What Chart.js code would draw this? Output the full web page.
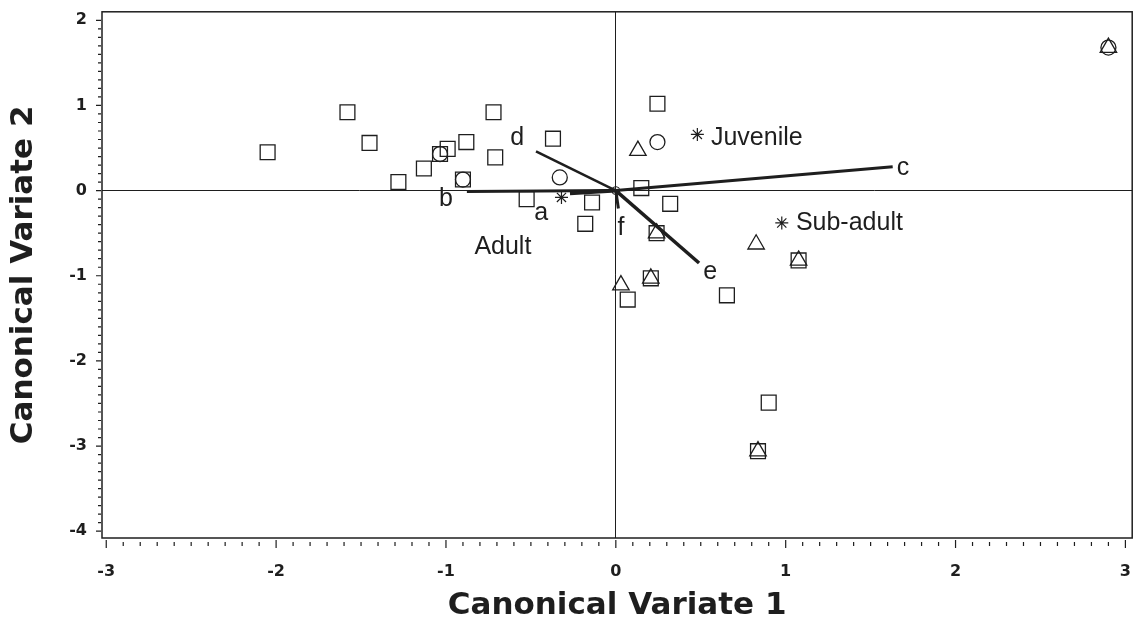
<!DOCTYPE html>
<html>
<head>
<meta charset="utf-8">
<script src="https://cdn.jsdelivr.net/npm/chart.js@4/dist/chart.umd.min.js"></script>
<style>
  html, body { margin: 0; padding: 0; background: #fff; }
  #wrap { width: 1144px; height: 642px; }
</style>
</head>
<body>
<div id="wrap"><canvas id="cvaChart" width="1144" height="642"></canvas></div>
<script>
// canonical scores
const squarePts = [
  [-2.05, 0.45], [-1.58, 0.92], [-1.45, 0.56], [-1.28, 0.10], [-1.13, 0.26],
  [-1.035, 0.43], [-0.99, 0.49], [-0.88, 0.57], [-0.90, 0.13], [-0.72, 0.92],
  [-0.71, 0.39], [-0.525, -0.10], [-0.37, 0.61], [-0.14, -0.14], [-0.18, -0.39],
  [0.245, 1.02], [0.15, 0.03], [0.32, -0.155], [0.24, -0.50], [0.206, -1.03],
  [0.07, -1.28], [0.654, -1.23], [1.076, -0.82], [0.90, -2.49], [0.837, -3.06]
];
const circlePts = [[-0.33, 0.155], [0.245, 0.57], [-1.035, 0.43], [-0.90, 0.13], [2.90, 1.68]];
const trianglePts = [
  [0.13, 0.47], [0.826, -0.63], [0.03, -1.11], [0.24, -0.50], [0.206, -1.03],
  [1.076, -0.82], [0.837, -3.06], [2.90, 1.68]
];

// group centroids
const groupNames = ['Adult', 'Juvenile', 'Sub-adult'];
const groupCentroids = [[-0.32, -0.08], [0.48, 0.66], [0.977, -0.38]];
const groupLabelAt = [[-0.665, -0.665], [0.56, 0.62], [1.06, -0.385]];

// variable vectors (from origin)
const vectorNames = ['a', 'b', 'c', 'd', 'e', 'f'];
const vectorEnds = [[-0.27, -0.03], [-0.877, -0.01], [1.63, 0.28], [-0.47, 0.46], [0.49, -0.85], [0.015, -0.21]];
const vectorLabelAt = [[-0.44, -0.26], [-1.0, -0.10], [1.69, 0.27], [-0.58, 0.62], [0.555, -0.96], [0.03, -0.44]];
const vectorWidths = [4, 3, 3, 2.5, 3.5, 3];

// axis ticks
const xTicks = [-3, -2, -1, 0, 1, 2, 3];
const yTicks = [-4, -3, -2, -1, 0, 1, 2];

const ink = '#1e1e1e';
const toXY = p => ({ x: p[0], y: p[1] });

const datasets = [];
vectorEnds.forEach((end, i) => {
  datasets.push({
    type: 'line',
    label: vectorNames[i],
    data: [{ x: 0, y: 0 }, toXY(end)],
    borderColor: ink,
    borderWidth: vectorWidths[i],
    pointRadius: 0,
    showLine: true,
    borderCapStyle: 'butt'
  });
});
datasets.push({
  label: 'origin', data: [{ x: 0, y: 0 }], pointStyle: 'circle', pointRadius: 4,
  borderColor: ink, backgroundColor: 'transparent', borderWidth: 1
});
datasets.push({
  label: 'squares', data: squarePts.map(toXY), pointStyle: 'rect', pointRadius: 10.5,
  borderColor: ink, backgroundColor: 'transparent', borderWidth: 1.3
});
datasets.push({
  label: 'circles', data: circlePts.map(toXY), pointStyle: 'circle', pointRadius: 7.5,
  borderColor: ink, backgroundColor: 'transparent', borderWidth: 1.3
});
datasets.push({
  label: 'triangles', data: trianglePts.map(toXY), pointStyle: 'triangle', pointRadius: 9.5,
  borderColor: ink, backgroundColor: 'transparent', borderWidth: 1.3
});
datasets.push({
  label: 'centroids', data: groupCentroids.map(toXY), pointStyle: 'star', pointRadius: 6.5,
  borderColor: ink, backgroundColor: 'transparent', borderWidth: 1.2
});

// frame, minor ticks and text labels
const decor = {
  id: 'decor',
  afterDraw(chart) {
    const { ctx, chartArea: a, scales: { x, y } } = chart;
    ctx.save();
    ctx.strokeStyle = ink;
    ctx.lineWidth = 1.5;
    ctx.strokeRect(a.left, a.top, a.right - a.left, a.bottom - a.top);

    ctx.lineWidth = 1.2;
    ctx.beginPath();
    for (let i = -30; i <= 30; i++) {
      const px = x.getPixelForValue(i / 10);
      const major = i % 10 === 0;
      ctx.moveTo(px, a.bottom + (major ? 2 : 4));
      ctx.lineTo(px, a.bottom + (major ? 10 : 8));
    }
    for (let i = -40; i <= 20; i++) {
      const py = y.getPixelForValue(i / 10);
      const major = i % 10 === 0;
      ctx.moveTo(a.left - (major ? 6 : 4), py);
      ctx.lineTo(a.left - 1, py);
    }
    ctx.stroke();

    ctx.fillStyle = ink;
    ctx.font = '25px "Liberation Sans", Arial, sans-serif';
    ctx.textBaseline = 'middle';
    ctx.textAlign = 'center';
    vectorNames.forEach((n, i) => {
      ctx.fillText(n, x.getPixelForValue(vectorLabelAt[i][0]), y.getPixelForValue(vectorLabelAt[i][1]));
    });
    groupNames.forEach((n, i) => {
      ctx.textAlign = i === 0 ? 'center' : 'left';
      ctx.fillText(n, x.getPixelForValue(groupLabelAt[i][0]), y.getPixelForValue(groupLabelAt[i][1]));
    });
    ctx.restore();
  }
};

const tickFont = { family: '"DejaVu Sans", sans-serif', size: 16, weight: 'bold' };
const titleFont = { family: '"DejaVu Sans", sans-serif', size: 31, weight: 'bold' };

new Chart(document.getElementById('cvaChart'), {
  type: 'scatter',
  data: { datasets },
  plugins: [decor],
  options: {
    responsive: false,
    animation: false,
    layout: { padding: { top: 10, right: 4, left: 0, bottom: 0 } },
    plugins: { legend: { display: false }, tooltip: { enabled: false } },
    scales: {
      x: {
        type: 'linear', min: -3.025, max: 3.04,
        afterFit: s => { s.height = 104; s.paddingLeft = 0; s.paddingRight = 0; },
        afterBuildTicks: s => { s.ticks = xTicks.map(v => ({ value: v })); },
        ticks: { font: tickFont, color: ink, padding: 24, maxRotation: 0 },
        grid: { drawTicks: false, lineWidth: 1, color: c => (c.tick && c.tick.value === 0 ? ink : 'transparent') },
        border: { display: false },
        title: { display: true, text: 'Canonical Variate 1', font: titleFont, color: ink, padding: { top: 0, bottom: 17 } }
      },
      y: {
        type: 'linear', min: -4.08, max: 2.1,
        afterFit: s => { s.width = 102; s.paddingTop = 0; s.paddingBottom = 0; },
        afterBuildTicks: s => { s.ticks = yTicks.map(v => ({ value: v })); },
        ticks: { font: tickFont, color: ink, padding: 15 },
        grid: { drawTicks: false, lineWidth: 1, color: c => (c.tick && c.tick.value === 0 ? ink : 'transparent') },
        border: { display: false },
        title: { display: true, text: 'Canonical Variate 2', font: titleFont, color: ink, padding: { top: 5, bottom: 0 } }
      }
    }
  }
});
</script>
</body>
</html>
